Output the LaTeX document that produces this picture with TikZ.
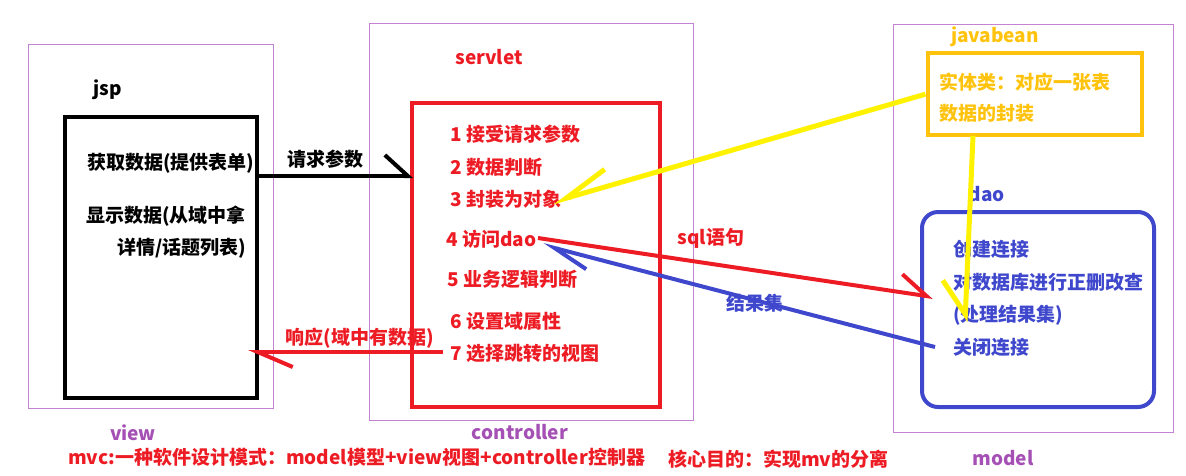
\documentclass[tikz,border=0pt]{standalone}
\usepackage{fontspec}
\setmainfont{Noto Sans CJK SC}
\usetikzlibrary{arrows.meta}

\definecolor{layerpurple}{RGB}{195,130,210}
\definecolor{tagpurple}{RGB}{165,80,180}
\definecolor{mvcred}{RGB}{237,28,36}
\definecolor{beanyellow}{RGB}{255,242,0}
\definecolor{beangold}{RGB}{255,195,14}
\definecolor{daoblue}{RGB}{63,72,204}

\tikzset{
  every node/.style={font=\fontsize{19}{23}\selectfont\bfseries},
  layer/.style={draw=layerpurple, line width=1pt},
  item/.style={anchor=west, inner sep=0pt},
  lbarb/.style 2 args={-{Straight Barb[harpoon,length=#1,width=#2]}},
  rbarb/.style 2 args={-{Straight Barb[harpoon,swap,length=#1,width=#2]}},
}

\begin{document}
\begin{tikzpicture}[x=1pt,y=-1pt]
	\useasboundingbox (0,0) rectangle (1186,475);
	
	% the three layers
	\node[layer, minimum width=245, minimum height=364] (viewlayer) at (150.5,226) {};
	\node[layer, minimum width=324, minimum height=397] (ctrllayer) at (531,221.5) {};
	\node[layer, minimum width=280, minimum height=408] (modellayer) at (1033,228) {};
	
	\node[text=tagpurple] (viewtag) at (133,433) {view};
	\node[text=tagpurple] (ctrltag) at (520,432) {controller};
	\node[text=tagpurple] (modeltag) at (1003,458) {model};
	
	% view
	\node (jsptag) at (108,90) {jsp};
	\node[draw, line width=4pt, minimum width=191.5, minimum height=281] (jsp) at (160.75,257.5) {};
	\node[item] (j1) at (87,163) {获取数据(提供表单)};
	\node[item] (j2) at (86,216) {显示数据(从域中拿};
	\node[item] (j3) at (117,248) {详情/话题列表)};
	
	% controller
	\node[text=mvcred] (servtag) at (489,57) {servlet};
	\node[draw=mvcred, line width=4pt, minimum width=248, minimum height=303.5] (serv) at (536,254.75) {};
	\node[item, text=mvcred] (s1) at (450,134) {1 接受请求参数};
	\node[item, text=mvcred] (s2) at (450,167) {2 数据判断};
	\node[item, text=mvcred] (s3) at (450,199) {3 封装为对象};
	\node[item, text=mvcred] (s4) at (446,239) {4 访问dao};
	\node[item, text=mvcred] (s5) at (447,279) {5 业务逻辑判断};
	\node[item, text=mvcred] (s6) at (450,321) {6 设置域属性};
	\node[item, text=mvcred] (s7) at (450,353) {7 选择跳转的视图};
	
	% model
	\node[text=beangold] (beantag) at (995,37) {javabean};
	\node[draw=beangold, line width=4pt, minimum width=214.5, minimum height=82.3] (bean) at (1034.75,94.15) {};
	\node[item, text=beangold] (b1) at (939,82) {实体类：对应一张表};
	\node[item, text=beangold] (b2) at (939,113) {数据的封装};
	
	\node[text=daoblue] (daotag) at (987,194) {dao};
	\node[draw=daoblue, line width=4pt, rounded corners=16pt, minimum width=232, minimum height=195] (dao) at (1038,309.5) {};
	\node[item, text=daoblue] (d1) at (953,249) {创建连接};
	\node[item, text=daoblue] (d2) at (953,282) {对数据库进行正删改查};
	\node[item, text=daoblue] (d3) at (953,315) {(处理结果集)};
	\node[item, text=daoblue] (d4) at (953,347) {关闭连接};
	
	% connectors
	\coordinate (reqtip) at (413,176);
	\coordinate (resfrom) at (443,352);
	\coordinate (restip) at (248,352);
	\coordinate (objtip) at (553,202);
	\coordinate (beanfoot) at (973,136);
	\coordinate (beantip) at (965,322);
	\coordinate (sqlfrom) at (538,238);
	\coordinate (sqltip) at (933,297);
	\coordinate (setfrom) at (935,347);
	\coordinate (settip) at (543,245);
	
	\draw[line width=4pt, lbarb={23pt}{42pt}] (jsp.east |- reqtip) -- node[above=2pt, xshift=-10pt] (reqtag) {请求参数} (reqtip);
	\draw[mvcred, line width=4pt, lbarb={35pt}{30pt}] (resfrom) -- (restip);
	\node[text=mvcred] (restag) at (360,338) {响应(域中有数据)};
	
	\draw[beanyellow, line width=5pt, rbarb={45pt}{34pt}] (bean.west) -- (objtip);
	\draw[beanyellow, line width=5pt, rbarb={33pt}{48pt}] (beanfoot) -- (beantip);
	
	\draw[mvcred, line width=4pt, lbarb={27pt}{36pt}] (sqlfrom) -- (sqltip);
	\node[text=mvcred] (sqltag) at (711,238) {sql语句};
	\draw[daoblue, line width=4pt, lbarb={36pt}{25pt}] (setfrom) -- (settip);
	\node[text=daoblue] (settag) at (755,303) {结果集};
	
	% notes
	\node[item, text=mvcred] (note1) at (68,457) {mvc:一种软件设计模式：model模型+view视图+controller控制器};
	\node[item, text=mvcred] (note2) at (668,459) {核心目的：实现mv的分离};
\end{tikzpicture}
\end{document}
